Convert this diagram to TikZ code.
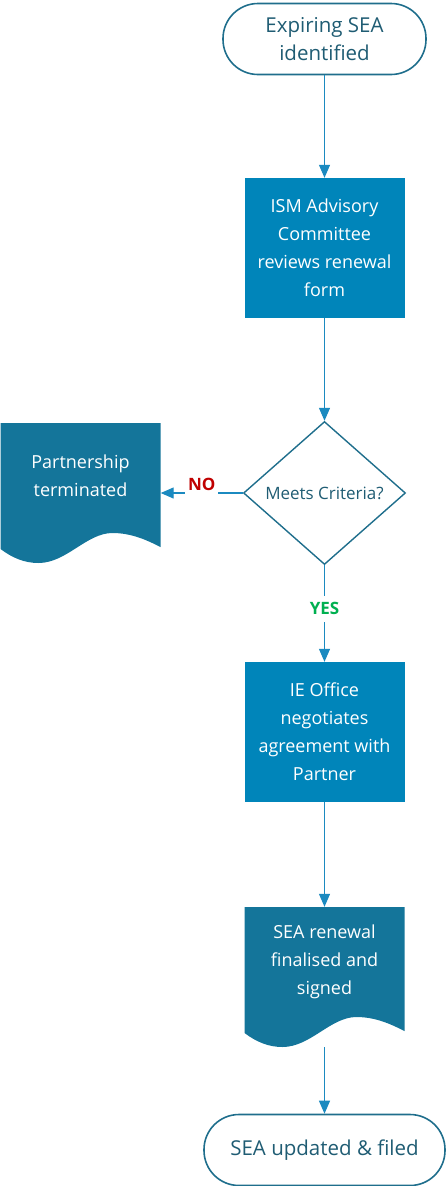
\documentclass[tikz,border=0pt]{standalone}
\usepackage{fontspec}
\setmainfont{Open Sans}
\usetikzlibrary{shapes.geometric,arrows.meta}
\definecolor{boxblue}{RGB}{0,133,186}
\definecolor{docblue}{RGB}{20,117,154}
\definecolor{edgeblue}{RGB}{27,138,192}
\definecolor{rimblue}{RGB}{31,110,140}
\definecolor{inkblue}{RGB}{31,92,115}
\definecolor{nored}{RGB}{192,0,0}
\definecolor{yesgreen}{RGB}{0,176,80}
\tikzset{
  term/.style={draw=rimblue, line width=1.6pt, rounded corners=35pt, minimum height=71pt,
    text=inkblue, align=center, font=\fontsize{20.5}{28}\selectfont},
  proc/.style={fill=boxblue, minimum width=160pt, minimum height=140pt, text=white,
    align=center, font=\fontsize{18}{28}\selectfont},
  doc/.style={minimum width=160pt, minimum height=140pt, text=white, align=center,
    font=\fontsize{18}{28}\selectfont, text depth=34pt},
  docshape/.pic={\fill[docblue] (-80,-56) .. controls (-68,-65) and (-56,-70) .. (-42,-70)
    .. controls (-14,-70) and (6,-40) .. (32,-40) .. controls (52,-40) and (68,-48) .. (80,-54)
    -- (80,70) -- (-80,70) -- cycle;},
  dec/.style={diamond, draw=rimblue, line width=1.4pt, minimum width=162pt, minimum height=143pt,
    inner sep=0pt, text=inkblue, font=\fontsize{17}{20}\selectfont},
  flow/.style={draw=edgeblue, line width=1.2pt, -{Triangle[length=13pt,width=11pt]}},
  tag/.style={fill=white, inner sep=3pt, minimum height=26pt, font=\bfseries\fontsize{17}{20}\selectfont}
}
\begin{document}
\begin{tikzpicture}[x=1pt, y=1pt]
\useasboundingbox (0,0) rectangle (446,-1186);
\pic at (80.5,-493) {docshape};
\pic at (324.5,-977) {docshape};
\node[term, minimum width=203pt] (start) at (324.5,-39) {Expiring SEA\\identified};
\node[proc] (review) at (324.5,-248) {ISM Advisory\\Committee\\reviews renewal\\form};
\node[dec] (crit) at (324.5,-493) {Meets Criteria?};
\node[doc] (term) at (80.5,-493) {Partnership\\terminated};
\node[proc] (nego) at (324.5,-732) {IE Office\\negotiates\\agreement with\\Partner};
\node[doc] (sign) at (324.5,-977) {SEA renewal\\finalised and\\signed};
\node[term, minimum width=241pt] (done) at (324.5,-1150) {SEA updated \& filed};
\draw[flow] (start) -- (review);
\draw[flow] (review) -- (crit);
\draw[flow] (crit) -- node[tag, text=nored, yshift=9pt] {NO} (term);
\draw[flow] (crit) -- node[tag, text=yesgreen, yshift=5pt] {YES} (nego);
\draw[flow] (nego) -- (sign);
\draw[flow] (sign) -- (done);
\end{tikzpicture}
\end{document}
